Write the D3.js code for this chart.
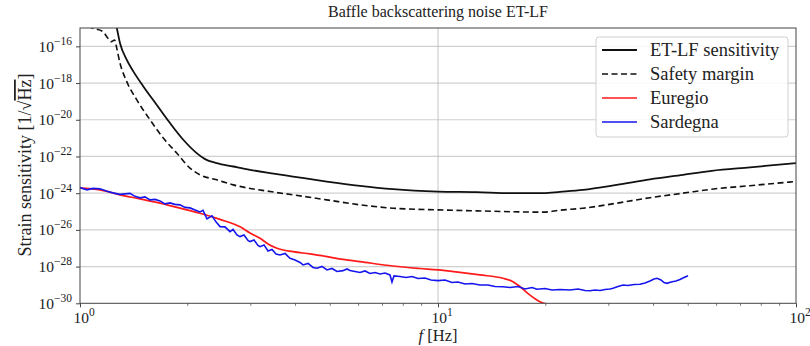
<!DOCTYPE html>
<html><head><meta charset="utf-8">
<script src="https://cdn.jsdelivr.net/npm/d3@7"></script>
<style>html,body{margin:0;padding:0;background:#fff}svg{display:block}</style>
</head><body><svg id="c" width="810" height="346" font-family="'Liberation Serif', 'Times New Roman', serif"></svg>
<script>
// ---- data ----
const titleText = "Baffle backscattering noise ET-LF";
const seriesNames = ["ET-LF sensitivity", "Safety margin", "Euregio", "Sardegna"];
const xTickExps = [0, 1, 2];
const yTickExps = [-30, -28, -26, -24, -22, -20, -18, -16];

const sensFreq = [1.0, 1.2, 1.25, 1.266, 1.293, 1.35, 1.409, 1.503, 1.637, 1.784, 1.943, 2.118, 2.235, 2.409, 2.68, 2.985, 3.395, 3.936, 4.888, 6.055, 7.487, 10.0, 12.83, 15.89, 19.69, 21.92, 25.41, 31.56, 39.1, 48.34, 58.16, 74.4, 100];
const sensVal = [2e-14, 3e-15, 2.5e-15, 1.05e-15, 1.53e-16, 1.88e-17, 4.33e-18, 6.58e-19, 6.59e-20, 6.62e-21, 8.13e-22, 1.53e-22, 7.19e-23, 4.35e-23, 2.84e-23, 1.87e-23, 1.24e-23, 8.07e-24, 4.31e-24, 2.51e-24, 1.66e-24, 1.23e-24, 1.14e-24, 1.0e-24, 1.0e-24, 1.18e-24, 1.52e-24, 2.84e-24, 5.68e-24, 1.0e-23, 1.65e-23, 2.56e-23, 4.35e-23];

const marginFreq = [1.0, 1.075, 1.159, 1.197, 1.221, 1.25, 1.26, 1.293, 1.35, 1.44, 1.569, 1.709, 1.863, 2.029, 2.164, 2.409, 2.68, 3.395, 3.936, 4.888, 6.055, 7.487, 10.0, 12.83, 19.69, 21.92, 25.41, 31.56, 39.1, 48.34, 58.16, 74.4, 100];
const marginVal = [2.5e-15, 1.05e-15, 6.34e-16, 2.73e-16, 1.8e-16, 2.23e-16, 1.24e-16, 1.24e-17, 1.23e-18, 1.24e-19, 1.0e-20, 1.0e-21, 1.53e-22, 2.32e-23, 1.0e-23, 5.33e-24, 2.84e-24, 1.23e-24, 8.11e-25, 4.33e-25, 2.31e-25, 1.52e-25, 1.23e-25, 1.09e-25, 9.23e-26, 1.18e-25, 1.52e-25, 2.84e-25, 5.68e-25, 1.0e-24, 1.65e-24, 2.56e-24, 4.35e-24];

const euregioFreq = [1.0, 1.137, 1.293, 1.471, 1.673, 1.902, 2.164, 2.461, 2.799, 2.985, 3.183, 3.351, 3.55, 3.936, 4.389, 4.897, 5.428, 6.055, 7.487, 8.907, 10.0, 11.52, 13.1, 15.19, 16.2, 16.95, 18.07, 19.27, 20.16];
const euregioVal = [1.88e-24, 1.52e-24, 8.1e-25, 4.9e-25, 2.86e-25, 1.52e-25, 8.1e-26, 3.73e-26, 1.46e-26, 6.8e-27, 3.5e-27, 1.72e-27, 1.0e-27, 6.5e-28, 4.9e-28, 3.48e-28, 2.45e-28, 1.86e-28, 1.08e-28, 7.9e-29, 6.6e-29, 4.8e-29, 3.5e-29, 2.31e-29, 1.51e-29, 8.1e-30, 2.8e-30, 1.22e-30, 9e-31];

const sardegnaFreq = [1.0, 1.046, 1.087, 1.137, 1.19, 1.236, 1.293, 1.379, 1.424, 1.471, 1.519, 1.569, 1.62, 1.673, 1.727, 1.784, 1.842, 1.902, 1.965, 2.029, 2.096, 2.164, 2.206, 2.263, 2.337, 2.398, 2.461, 2.541, 2.624, 2.676, 2.745, 2.799, 2.872, 2.946, 2.985, 3.062, 3.142, 3.183, 3.266, 3.351, 3.438, 3.528, 3.62, 3.738, 3.86, 3.986, 4.118, 4.198, 4.335, 4.476, 4.592, 4.742, 4.897, 5.057, 5.222, 5.428, 5.569, 5.678, 5.864, 6.055, 6.253, 6.457, 6.668, 6.887, 7.112, 7.343, 7.438, 7.534, 7.831, 8.14, 8.46, 8.795, 9.198, 9.559, 10.0, 10.46, 10.94, 11.37, 11.9, 12.45, 13.1, 13.79, 14.43, 15.19, 15.89, 16.73, 17.5, 18.31, 18.9, 19.9, 20.82, 21.92, 23.37, 24.61, 25.74, 26.58, 27.45, 28.35, 29.28, 30.23, 30.82, 31.83, 32.87, 33.94, 35.28, 36.67, 37.87, 39.1, 40.12, 40.9, 41.97, 42.79, 43.62, 44.76, 46.22, 47.42, 48.66, 49.93];
const sardegnaVal = [2.03e-24, 1.52e-24, 1.83e-24, 1.72e-24, 1.26e-24, 1.04e-24, 8.63e-25, 9.8e-25, 6.71e-25, 5.56e-25, 6.31e-25, 4.33e-25, 4.6e-25, 3.81e-25, 2.62e-25, 2.96e-25, 2.46e-25, 2.31e-25, 1.69e-25, 1.58e-25, 1.23e-25, 9.57e-26, 1.16e-25, 3.97e-26, 5.79e-26, 2.73e-26, 1.51e-26, 1.46e-26, 8.05e-27, 1.06e-26, 5.32e-27, 4.31e-27, 5.32e-27, 2.67e-27, 2.3e-27, 2.84e-27, 1.43e-27, 1.22e-27, 1.52e-27, 7.14e-28, 8.61e-28, 4.9e-28, 4.32e-28, 5.21e-28, 2.85e-28, 2.3e-28, 1.68e-28, 1.23e-28, 1.48e-28, 8.97e-29, 8.13e-29, 1.02e-28, 6.56e-29, 7.92e-29, 5.43e-29, 6.01e-29, 7.43e-29, 6.17e-29, 5.43e-29, 4.79e-29, 5.78e-29, 4.23e-29, 4.79e-29, 3.97e-29, 4.5e-29, 3.5e-29, 1.45e-29, 3.09e-29, 2.9e-29, 2.56e-29, 2.9e-29, 2.25e-29, 2.4e-29, 1.87e-29, 1.71e-29, 1.87e-29, 1.36e-29, 1.45e-29, 1.13e-29, 1.2e-29, 9.95e-30, 9.95e-30, 8.26e-30, 8.05e-30, 7.28e-30, 8.26e-30, 6.03e-30, 7.28e-30, 5.81e-30, 6.41e-30, 5.32e-30, 5.66e-30, 5.32e-30, 6.03e-30, 4.99e-30, 4.86e-30, 5.32e-30, 4.99e-30, 5.66e-30, 6.03e-30, 6.58e-30, 8.26e-30, 9.95e-30, 9.35e-30, 1.06e-29, 1.09e-29, 1.28e-29, 1.65e-29, 2.12e-29, 2.31e-29, 1.87e-29, 1.36e-29, 1.23e-29, 1.45e-29, 1.65e-29, 1.99e-29, 2.56e-29, 3.21e-29];

// ---- layout ----
const svg = d3.select("#c");
const L = 80, R = 796, T = 28, B = 303.3;
const x = d3.scaleLog().domain([1, 100]).range([L, R]);
const y = d3.scaleLog().domain([1e-30, 1e-15]).range([B, T]);
const ink = "#222";

svg.append("defs").append("clipPath").attr("id", "clip")
  .append("rect").attr("x", L).attr("y", T).attr("width", R - L).attr("height", B - T);

// grid
svg.append("g").selectAll("line").data(yTickExps.slice(1)).join("line")
  .attr("x1", L).attr("x2", R).attr("y1", d => y(Math.pow(10, d))).attr("y2", d => y(Math.pow(10, d)))
  .attr("stroke", "#d0d0d0").attr("stroke-width", 1.2);
svg.append("line").attr("x1", x(10)).attr("x2", x(10)).attr("y1", T).attr("y2", B)
  .attr("stroke", "#b8b8b8").attr("stroke-width", 0.8);

// lines
const line = d3.line().x(d => x(d[0])).y(d => y(d[1])).curve(d3.curveMonotoneX);
const rough = d3.line().x(d => x(d[0])).y(d => y(d[1]));
const zip = (a, b) => a.map((v, i) => [v, b[i]]);
const g = svg.append("g").attr("clip-path", "url(#clip)");
g.append("path").attr("d", line(zip(sensFreq, sensVal))).attr("fill", "none").attr("stroke", "#111").attr("stroke-width", 1.8);
g.append("path").attr("d", line(zip(marginFreq, marginVal))).attr("fill", "none").attr("stroke", "#111").attr("stroke-width", 1.6).attr("stroke-dasharray", "6,3.5");
g.append("path").attr("d", line(zip(euregioFreq, euregioVal))).attr("fill", "none").attr("stroke", "#ff1a1a").attr("stroke-width", 1.7);
g.append("path").attr("d", rough(zip(sardegnaFreq, sardegnaVal))).attr("fill", "none").attr("stroke", "#1515ee").attr("stroke-width", 1.6);

// axes
const xMinor = [];
[1, 10].forEach(b => { for (let k = 2; k <= 9; k++) xMinor.push(b * k); });
const xAxis = d3.axisBottom(x).tickValues(xTickExps.map(e => Math.pow(10, e))).tickSize(4).tickFormat("");
const gx = svg.append("g").attr("transform", `translate(0,${B})`).call(xAxis);
gx.select(".domain").remove();
gx.selectAll("line").attr("stroke", "#444");
svg.append("g").selectAll("line").data(xMinor).join("line")
  .attr("x1", d => x(d)).attr("x2", d => x(d)).attr("y1", B).attr("y2", B + 2.5).attr("stroke", "#555").attr("stroke-width", 0.8);

const yAxis = d3.axisLeft(y).tickValues(yTickExps.map(e => Math.pow(10, e))).tickSize(4).tickFormat("");
const gy = svg.append("g").attr("transform", `translate(${L},0)`).call(yAxis);
gy.select(".domain").remove();
gy.selectAll("line").attr("stroke", "#444");

// frame
svg.append("rect").attr("x", L).attr("y", T).attr("width", R - L).attr("height", B - T)
  .attr("fill", "none").attr("stroke", "#444").attr("stroke-width", 1);

// tick labels
function powLabel(sel, exp) {
  sel.append("tspan").text("10");
  sel.append("tspan").attr("dy", -7).attr("font-size", 11.5).text(String(exp).replace("-", "\u2212"));
}
yTickExps.forEach(e => {
  const t = svg.append("text").attr("x", 72).attr("y", y(Math.pow(10, e)) + 5.5)
    .attr("text-anchor", "end").attr("font-size", 15.5).attr("fill", ink);
  powLabel(t, e);
});
xTickExps.forEach(e => {
  const t = svg.append("text").attr("x", x(Math.pow(10, e)) + 4).attr("y", 323)
    .attr("text-anchor", "middle").attr("font-size", 15.5).attr("fill", ink);
  powLabel(t, e);
});

// axis titles
const xl = svg.append("text").attr("x", x(10)).attr("y", 341).attr("text-anchor", "middle").attr("font-size", 16.5).attr("fill", ink);
xl.append("tspan").attr("font-style", "italic").text("f");
xl.append("tspan").text(" [Hz]");

const yl = svg.append("text").attr("transform", "translate(31,165) rotate(-90)").attr("text-anchor", "middle").attr("font-size", 18).attr("fill", ink);
yl.append("tspan").text("Strain sensitivity [1/\u221A");
yl.append("tspan").style("text-decoration", "overline").text("Hz");
yl.append("tspan").text("]");

svg.append("text").attr("x", x(10)).attr("y", 17).attr("text-anchor", "middle").attr("font-size", 16).attr("fill", ink).text(titleText);

// legend
const lg = svg.append("g");
lg.append("rect").attr("x", 596).attr("y", 37).attr("width", 192).attr("height", 100).attr("rx", 3)
  .attr("fill", "white").attr("fill-opacity", 0.85).attr("stroke", "#d0d0d0").attr("stroke-width", 1);
const styles = [
  {c: "#111", dash: null, w: 1.8},
  {c: "#111", dash: "6,3.5", w: 1.6},
  {c: "#ff1a1a", dash: null, w: 1.6},
  {c: "#1515ee", dash: null, w: 1.6}
];
seriesNames.forEach((n, i) => {
  const yy = 50 + i * 24;
  lg.append("line").attr("x1", 602).attr("x2", 637).attr("y1", yy).attr("y2", yy)
    .attr("stroke", styles[i].c).attr("stroke-width", styles[i].w).attr("stroke-dasharray", styles[i].dash);
  lg.append("text").attr("x", 650).attr("y", yy + 6).attr("font-size", 18.5).attr("fill", ink).text(n);
});
</script></body></html>
